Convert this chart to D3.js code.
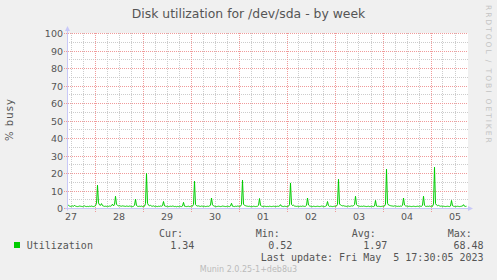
<!DOCTYPE html>
<html>
<head>
<meta charset="utf-8">
<script src="https://cdn.jsdelivr.net/npm/d3@7"></script>
<style>
  html, body { margin: 0; padding: 0; background: #f0f0f0; }
  svg { display: block; }
  text { white-space: pre; }
</style>
</head>
<body>
<div id="chart"></div>
<script>
// chart text
var title = "Disk utilization for /dev/sda - by week";
var yLabel = "% busy";
var seriesName = "Utilization";
var lastUpdate = "Last update: Fri May  5 17:30:05 2023";
var footer = "Munin 2.0.25-1+deb8u3";
var watermark = "RRDTOOL / TOBI OETIKER";

// y axis ticks
var yTicks = [0, 10, 20, 30, 40, 50, 60, 70, 80, 90, 100];

// legend stats
var statLabels = ["Cur:", "Min:", "Avg:", "Max:"];
var statValues = ["1.34", "0.52", "1.97", "68.48"];

// time window (30 min samples)
var viewStart = new Date(2023, 3, 27, 10, 0);
var viewEnd = new Date(2023, 4, 5, 18, 0);
var stepMinutes = 30;

// % busy, one value per 30 minutes starting at viewStart
var utilization = [
  1.6,1.8,1.4,1.2,1.3,1.5,1.2,1.9,1.3,1.2,1.1,1.2,1.4,1.3,1.2,1.1,1.3,1.5,1.2,1.1,
  1.2,1.1,1.3,1.2,1.4,1.2,1.1,1.3,1.6,3.0,13.3,3.2,2.1,1.8,2.8,1.6,1.4,1.2,1.3,1.2,
  1.3,1.2,1.4,1.3,1.6,2.5,1.5,2.2,7.0,2.4,1.8,1.5,1.6,1.4,1.3,1.5,1.4,1.3,1.2,1.4,
  1.3,1.2,1.4,1.3,1.2,1.1,1.3,1.8,5.3,1.7,1.3,1.2,1.3,1.2,1.4,1.1,1.2,1.3,2.8,20.0,
  3.0,1.9,1.6,1.8,1.4,1.3,1.5,1.2,1.3,1.2,1.1,1.3,1.2,1.4,1.3,1.6,4.0,1.5,1.3,1.2,
  1.3,1.1,1.2,1.3,1.2,1.4,1.3,1.1,1.2,1.0,1.2,1.1,1.3,1.2,1.1,1.4,3.5,1.3,1.2,1.1,
  1.2,1.3,1.1,1.2,1.4,1.3,2.4,15.6,2.2,1.6,1.4,1.5,1.3,1.2,1.4,1.3,1.2,1.3,1.1,1.2,
  1.3,1.2,1.4,2.0,6.0,2.1,1.5,1.3,1.2,1.1,1.2,1.3,1.2,1.1,1.2,1.4,1.3,1.2,1.1,1.2,
  1.3,1.2,1.1,1.4,3.0,1.3,1.2,1.1,1.3,1.2,1.4,1.3,1.2,1.3,2.3,16.2,2.5,1.8,1.6,1.4,
  1.3,1.2,1.3,1.1,1.2,1.1,1.3,1.2,1.1,1.2,1.3,1.8,5.7,1.9,1.3,1.2,1.1,1.3,1.2,1.1,
  1.2,1.1,1.3,1.2,1.1,1.2,1.3,1.2,1.1,1.2,1.3,1.2,1.4,2.2,1.3,1.2,1.1,1.3,1.2,1.1,
  1.2,1.3,2.2,14.6,2.4,1.7,1.9,1.4,1.3,1.2,1.3,1.1,1.2,1.3,1.2,1.4,1.3,1.2,1.3,1.8,
  6.0,2.0,1.5,1.3,1.2,1.1,1.3,1.2,1.1,1.2,1.3,1.2,1.1,1.2,1.4,1.3,1.2,1.1,1.3,1.6,
  4.0,1.6,1.2,1.3,1.2,1.1,1.2,1.3,1.2,1.4,2.4,16.7,2.6,2.0,1.7,1.5,1.6,1.4,1.3,1.2,
  1.3,1.4,1.2,1.3,1.5,1.4,1.6,2.2,7.0,2.3,1.6,1.4,1.3,1.2,1.3,1.2,1.4,1.3,1.2,1.1,
  1.2,1.3,1.1,1.2,1.3,1.2,1.1,1.4,4.6,1.4,1.2,1.3,1.2,1.1,1.2,1.3,1.2,1.4,2.5,22.5,
  3.0,2.0,1.8,1.6,1.5,1.4,1.3,1.5,1.4,1.3,1.2,1.3,1.2,1.4,1.3,1.8,6.0,2.0,1.5,1.4,
  1.3,1.2,1.3,1.2,1.1,1.2,1.3,1.2,1.1,1.2,1.3,1.2,1.4,1.3,1.2,1.9,7.0,1.8,1.3,1.2,
  1.3,1.2,1.4,1.2,1.3,1.2,2.6,23.6,2.8,2.0,1.6,1.8,1.5,1.3,1.4,1.2,1.3,1.2,1.1,1.2,
  1.3,1.2,1.1,1.4,4.6,1.6,1.3,1.2,1.1,1.2,1.3,1.2,1.1,1.2,1.3,1.4,2.2,1.3,1.2,1.3
];

var width = 497,
    height = 280;

var plot = { left: 67, top: 33, width: 400, height: 175 };

var svg = d3.select("#chart")
    .append("svg")
    .attr("width", width)
    .attr("height", height)
    .style("background", "#f0f0f0");

var x = d3.scaleTime()
    .domain([viewStart, viewEnd])
    .range([plot.left, plot.left + plot.width]);

var y = d3.scaleLinear()
    .domain([0, 100])
    .range([plot.top + plot.height + 0.5, plot.top + 0.5]);

function crisp(v) { return Math.round(v - 0.5) + 0.5; }

// plot canvas
svg.append("rect")
    .attr("x", plot.left)
    .attr("y", plot.top)
    .attr("width", plot.width + 1)
    .attr("height", plot.height + 1)
    .attr("fill", "#ffffff");

// minor grid: every 6 hours / every 5 %, skipping the major positions
var minorX = d3.timeHour.every(6).range(viewStart, viewEnd)
    .filter(function(d) { return d.getHours() !== 0; });
var minorY = d3.range(5, 100, 10);

var grid = svg.append("g")
    .attr("fill", "none")
    .attr("stroke-width", 1)
    .attr("stroke-dasharray", "1,1")
    .attr("shape-rendering", "crispEdges");

grid.selectAll(".vminor")
    .data(minorX)
    .enter()
    .append("line")
    .attr("x1", function(d) { return crisp(x(d)); })
    .attr("x2", function(d) { return crisp(x(d)); })
    .attr("y1", plot.top)
    .attr("y2", plot.top + plot.height)
    .attr("stroke", "#cccccc");

grid.selectAll(".hminor")
    .data(minorY)
    .enter()
    .append("line")
    .attr("x1", plot.left)
    .attr("x2", plot.left + plot.width + 1)
    .attr("y1", function(d) { return crisp(y(d)); })
    .attr("y2", function(d) { return crisp(y(d)); })
    .attr("stroke", "#cccccc");

// major grid (days / tens)
var days = d3.timeDay.range(viewStart, viewEnd);

grid.selectAll(".vmajor")
    .data(days)
    .enter()
    .append("line")
    .attr("x1", function(d) { return crisp(x(d)); })
    .attr("x2", function(d) { return crisp(x(d)); })
    .attr("y1", plot.top)
    .attr("y2", plot.top + plot.height + 4)
    .attr("stroke", "#f09a9a");

grid.selectAll(".hmajor")
    .data(yTicks)
    .enter()
    .append("line")
    .attr("x1", plot.left - 3)
    .attr("x2", plot.left + plot.width + 1)
    .attr("y1", function(d) { return crisp(y(d)); })
    .attr("y2", function(d) { return crisp(y(d)); })
    .attr("stroke", "#f09a9a");

// data line
var line = d3.line()
    .x(function(d, i) { return x(d3.timeMinute.offset(viewStart, i * stepMinutes)) + 0.5; })
    .y(function(d) { return y(d); });

svg.append("path")
    .datum(utilization)
    .attr("d", line)
    .attr("fill", "none")
    .attr("stroke", "#00cc00")
    .attr("stroke-width", 1);

// axes with arrows
var axisColor = "#c8c8f8";
var x0 = crisp(plot.left), y0 = crisp(y(0));

svg.append("line")
    .attr("x1", x0).attr("x2", x0)
    .attr("y1", y0 + 2).attr("y2", plot.top - 3)
    .attr("stroke", axisColor);

svg.append("line")
    .attr("x1", plot.left - 2).attr("x2", plot.left + plot.width + 2)
    .attr("y1", y0).attr("y2", y0)
    .attr("stroke", axisColor);

svg.append("path")
    .attr("d", "M" + (x0 - 2.5) + "," + (plot.top - 2) + "L" + x0 + "," + (plot.top - 7) + "L" + (x0 + 2.5) + "," + (plot.top - 2) + "Z")
    .attr("fill", axisColor);

svg.append("path")
    .attr("d", "M" + (plot.left + plot.width + 1) + "," + (y0 - 2.5) + "L" + (plot.left + plot.width + 6) + "," + y0 + "L" + (plot.left + plot.width + 1) + "," + (y0 + 2.5) + "Z")
    .attr("fill", axisColor);

// y tick labels
svg.append("g")
    .selectAll("text")
    .data(yTicks)
    .enter()
    .append("text")
    .attr("x", plot.left - 4)
    .attr("y", function(d) { return crisp(y(d)) + 3.5; })
    .attr("text-anchor", "end")
    .attr("font-family", "DejaVu Sans")
    .attr("font-size", 9.5)
    .attr("fill", "#555")
    .text(function(d) { return d; });

// x tick labels, centred at noon of each day
var fmt = d3.timeFormat("%d");
var noons = d3.timeDay.range(d3.timeDay.floor(viewStart), viewEnd)
    .map(function(d) { return d3.timeHour.offset(d, 12); })
    .filter(function(d) { return d >= viewStart && d <= viewEnd; });

svg.append("g")
    .selectAll("text")
    .data(noons)
    .enter()
    .append("text")
    .attr("x", function(d) { return x(d); })
    .attr("y", 220)
    .attr("text-anchor", "middle")
    .attr("font-family", "DejaVu Sans")
    .attr("font-size", 9.5)
    .attr("fill", "#555")
    .text(fmt);

// title
svg.append("text")
    .attr("x", 248.5)
    .attr("y", 18.3)
    .attr("text-anchor", "middle")
    .attr("font-family", "DejaVu Sans")
    .attr("font-size", 12.4)
    .attr("fill", "#555")
    .text(title);

// y axis title
svg.append("text")
    .attr("transform", "translate(12.5,119.5) rotate(-90)")
    .attr("text-anchor", "middle")
    .attr("font-family", "DejaVu Sans")
    .attr("font-size", 10)
    .attr("letter-spacing", 1.1)
    .attr("fill", "#555")
    .text(yLabel);

// watermark
svg.append("text")
    .attr("transform", "translate(486,5) rotate(90)")
    .attr("text-anchor", "start")
    .attr("font-family", "DejaVu Sans")
    .attr("font-size", 7.6)
    .attr("letter-spacing", 1.9)
    .attr("fill", "#c4c4c4")
    .text(watermark);

// legend
var mono = "DejaVu Sans Mono";
var legend = svg.append("g")
    .attr("font-family", mono)
    .attr("font-size", 10)
    .attr("fill", "#555");

legend.append("rect")
    .attr("x", 14).attr("y", 242)
    .attr("width", 6).attr("height", 6)
    .attr("fill", "#00cc00");

legend.append("text")
    .attr("x", 26.7).attr("y", 248.5)
    .text(seriesName);

var labelX = [159, 255.7, 351.7, 447.7];
var valueEndX = [194.3, 292.3, 387.3, 483.6];

legend.selectAll(".slabel")
    .data(statLabels)
    .enter()
    .append("text")
    .attr("x", function(d, i) { return labelX[i]; })
    .attr("y", 237)
    .text(function(d) { return d; });

legend.selectAll(".svalue")
    .data(statValues)
    .enter()
    .append("text")
    .attr("x", function(d, i) { return valueEndX[i]; })
    .attr("y", 248.5)
    .attr("text-anchor", "end")
    .text(function(d) { return d; });

legend.append("text")
    .attr("x", 483.6).attr("y", 261)
    .attr("text-anchor", "end")
    .text(lastUpdate);

// footer
svg.append("text")
    .attr("x", 248.5)
    .attr("y", 271.5)
    .attr("text-anchor", "middle")
    .attr("font-family", "DejaVu Sans")
    .attr("font-size", 8)
    .attr("fill", "#bbbbbb")
    .text(footer);
</script>
</body>
</html>
